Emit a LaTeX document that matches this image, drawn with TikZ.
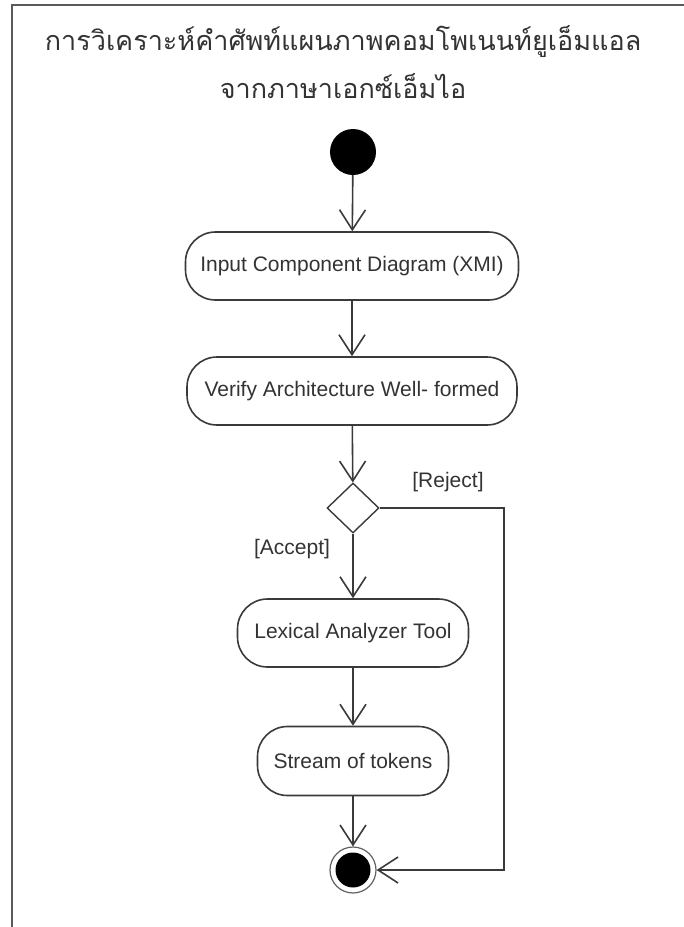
\documentclass[tikz,border=0pt]{standalone}
\usepackage{fontspec}
\setmainfont{Liberation Sans}
\newfontfamily\thaifont[Script=Thai]{Loma}
\usetikzlibrary{arrows.meta,shapes.geometric}

\definecolor{linegray}{HTML}{3A3A3A}
\definecolor{textgray}{HTML}{333333}
\definecolor{framegray}{HTML}{5A5A5A}

\begin{document}
\begin{tikzpicture}[x=1pt,y=-1pt,
  conn/.style={draw=linegray, line width=1.6pt},
  flow/.style={conn, -{Straight Barb[length=20pt,width=26pt,line width=1.6pt]}},
  action/.style={draw=linegray, line width=1.6pt, rounded corners=30pt,
    minimum height=68pt, inner sep=0pt, text=textgray,
    font=\fontsize{21}{25}\selectfont},
  guard/.style={text=textgray, inner sep=0pt, font=\fontsize{21}{25}\selectfont},
  heading/.style={text=textgray, inner sep=0pt, anchor=base,
    font=\thaifont\fontsize{27}{32}\selectfont},
]
\useasboundingbox (0,0) rectangle (684,927);

% frame of the activity
\draw[framegray, line width=2.5pt] (684,5) -| (12,927);

% heading
\node[heading] (t1) at (343,50) {การวิเคราะห์คำศัพท์แผนภาพคอมโพเนนท์ยูเอ็มแอล};
\node[heading] (t2) at (343,98) {จากภาษาเอกซ์เอ็มไอ};

% nodes
\node[circle, fill=black, minimum size=46pt, inner sep=0pt] (start) at (353,152) {};
\node[action, minimum width=333pt] (n1) at (352,266) {Input Component Diagram (XMI)};
\node[action, minimum width=330pt] (n2) at (352,391) {Verify Architecture Well- formed};
\node[diamond, draw=linegray, line width=1.4pt, fill=white, minimum width=52pt,
  minimum height=50pt, inner sep=0pt] (dec) at (353,508) {};
\node[action, minimum width=231pt] (n3) at (353,633) {Lexical Analyzer Tool};
\node[action, minimum width=191pt, minimum height=69pt] (n4) at (353,761) {Stream of tokens};
\node[circle, draw=linegray!80, line width=1.2pt, minimum size=46pt, inner sep=0pt,
  path picture={\fill[black] (path picture bounding box.center) circle (17.5pt);}]
  (end) at (353,870) {};

% guards
\node[guard] (rej) at (448,482) {[Reject]};
\node[guard] (acc) at (292,549) {[Accept]};

% connectors
\coordinate (rcorner) at (504,870);
\draw[flow] (start) -- (n1);
\draw[flow] (n1) -- (n2);
\draw[flow] (n2) -- (dec);
\draw[flow] (dec) -- (n3);
\draw[flow] (n3) -- (n4);
\draw[flow] (n4) -- (end);
\draw[flow] (dec.east) -| (rcorner) -- (end.east);
\end{tikzpicture}
\end{document}
